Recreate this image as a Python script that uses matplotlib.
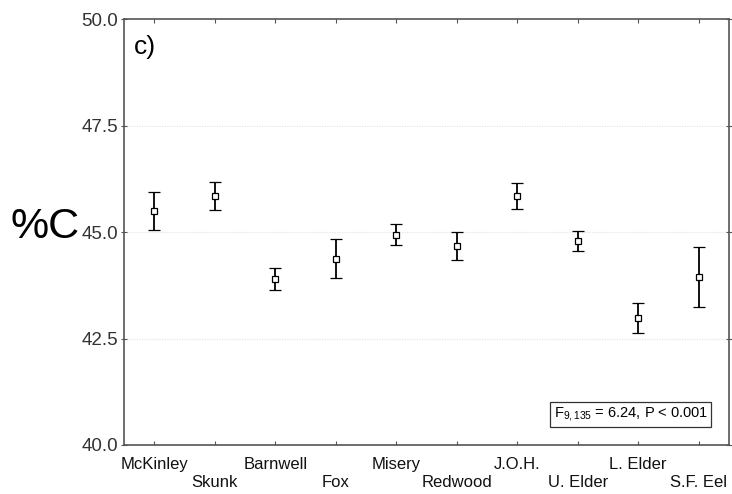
import matplotlib
matplotlib.use("Agg")
import matplotlib.pyplot as plt
import numpy as np

plt.rcParams['font.family'] = ['Liberation Sans', 'DejaVu Sans']
plt.rcParams['mathtext.fontset'] = 'custom'
plt.rcParams['mathtext.rm'] = 'Liberation Sans'
plt.rcParams['mathtext.it'] = 'Liberation Sans'

# site means and error bars for %C
sites = ["McKinley", "Skunk", "Barnwell", "Fox", "Misery",
         "Redwood", "J.O.H.", "U. Elder", "L. Elder", "S.F. Eel"]
mean_c = [45.49, 45.84, 43.90, 44.37, 44.94, 44.67, 45.84, 44.79, 42.98, 43.95]
err_c = [0.45, 0.33, 0.26, 0.46, 0.25, 0.33, 0.30, 0.24, 0.36, 0.70]
yticks = [40.0, 42.5, 45.0, 47.5, 50.0]
stat_text = r"F$_{9,135}$ = 6.24, P < 0.001"

fig = plt.figure(figsize=(7.32, 4.94), dpi=100)
ax = fig.add_axes([0.1694, 0.0992, 0.8265, 0.8623])

x = np.arange(len(sites))
ax.errorbar(x, mean_c, yerr=err_c, fmt='s', color='black', ecolor='black',
            elinewidth=1.3, capsize=4.5, capthick=1.3,
            markersize=4.5, markerfacecolor='white', markeredgecolor='black',
            markeredgewidth=0.9, zorder=3)

ax.set_xlim(-0.5, len(sites) - 0.5)
ax.set_ylim(40, 50)
ax.set_yticks(yticks)
ax.set_yticklabels([f"{v:.1f}" for v in yticks], fontsize=13.5, color='#333333')
for v in yticks[1:-1]:
    ax.axhline(v, color='#e6e6e6', linewidth=0.9, linestyle=(0, (1, 1)), zorder=1)

ax.set_xticks(x)
ax.set_xticklabels([])
for i, name in enumerate(sites):
    dy = -0.045 if i % 2 == 0 else -0.088
    ax.text(i, dy, name, transform=ax.get_xaxis_transform(), ha='center',
            va='center', fontsize=12, color='#111111')

for s in ax.spines.values():
    s.set_color('#555555')
    s.set_linewidth(1.2)
ax.tick_params(axis='x', direction='in', length=3, color='#555555',
               top=True, bottom=True)
ax.tick_params(axis='y', direction='inout', length=5, color='#555555',
               right=True, pad=2)

ax.text(0.016, 0.935, "c)", transform=ax.transAxes, fontsize=19,
        ha='left', va='center')
fig.text(0.062, 0.54, "%C", fontsize=31, ha='center', va='center')

ax.text(0.965, 0.072, stat_text, transform=ax.transAxes, fontsize=10.5,
        ha='right', va='center',
        bbox=dict(boxstyle='square,pad=0.25', facecolor='white',
                  edgecolor='#333333', linewidth=0.9))

fig.savefig("out.png", dpi=100)
